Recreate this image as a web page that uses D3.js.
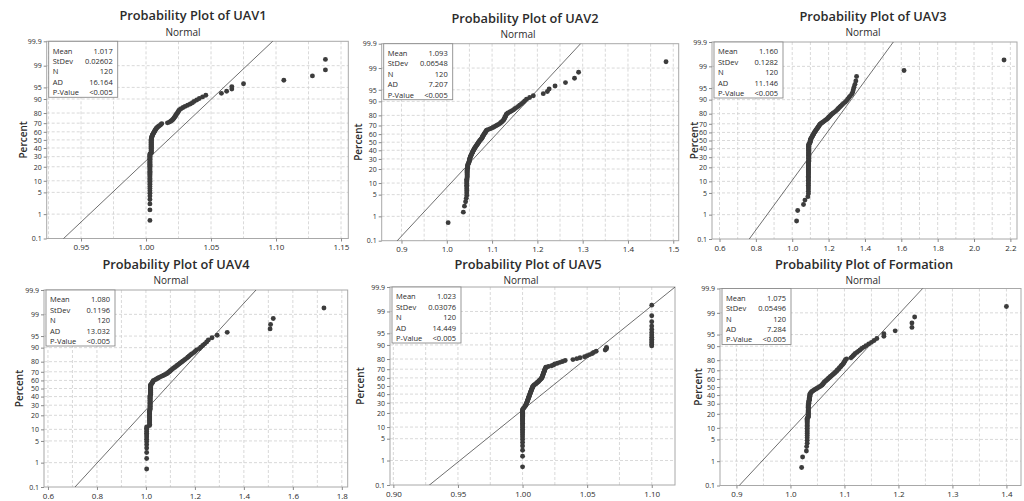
<!DOCTYPE html>
<html>
<head>
<meta charset="utf-8">
<script src="https://cdn.jsdelivr.net/npm/d3@7"></script>
<style>
  body { margin: 0; background: #fff; }
  svg text { font-family: "Open Sans", "Noto Sans", sans-serif; fill: #2b2b2b; }
</style>
</head>
<body>
<svg id="chart" width="1024" height="501"></svg>
<script>
// ---- sorted observations (n = 120 each) ----
const uav1 = [
  1.003,1.003,1.003,1.003,1.003,1.003,1.003,1.003,1.003,1.003,
  1.003,1.003,1.003,1.003,1.003,1.003,1.003,1.003,1.003,1.003,
  1.003,1.003,1.003,1.003,1.003,1.003,1.003,1.003,1.003,1.003,
  1.003,1.003,1.003,1.003,1.003,1.003,1.003,1.003,1.003,1.003,
  1.004,1.004,1.004,1.004,1.004,1.004,1.004,1.004,1.004,1.004,
  1.004,1.004,1.004,1.004,1.004,1.004,1.004,1.004,1.004,1.004,
  1.004,1.004,
  1.0042,1.0044,1.0045,1.0046,1.0048,1.005,1.0053,1.0056,1.0059,1.0062,
  1.0065,1.0068,1.0071,1.0074,1.0078,1.0082,1.0088,1.0095,1.0102,1.011,
  1.0116,1.0121,
  1.0165,1.018,1.019,1.0198,1.0205,1.021,1.0215,1.022,1.0225,1.0228,
  1.0232,1.0238,1.0243,1.0248,1.0252,1.0258,
  1.027,1.0285,1.030,1.032,1.034,1.0357,1.037,1.039,1.041,1.0435,1.046,
  1.058,1.062,1.066,1.066,1.075,1.106,1.128,1.138,1.138
];
const uav2 = [
  1.003,1.0365,1.039,1.0415,1.043,
  1.044,1.044,1.044,1.044,1.044,1.044,1.044,1.044,1.044,1.044,
  1.045,1.045,1.045,1.045,1.045,1.045,1.045,1.045,1.045,
  1.046,1.046,1.046,1.046,1.046,
  1.0475,1.048,1.049,1.0493,1.0497,1.050,1.0505,1.051,1.0515,1.052,
  1.0527,1.0535,1.0543,1.055,1.0557,1.0564,1.0571,1.0578,1.0585,1.0594,
  1.0603,1.0612,1.062,1.063,1.064,1.065,1.066,1.067,1.068,1.069,
  1.070,1.071,1.072,1.073,1.0743,1.0757,1.077,1.078,1.0785,1.079,
  1.080,1.081,1.082,1.083,1.084,1.085,1.086,1.087,1.088,
  1.091,1.095,1.099,1.102,1.105,1.108,1.111,1.114,1.117,1.119,
  1.121,1.123,1.125,1.126,1.127,1.128,1.129,1.130,1.131,1.132,
  1.135,1.139,1.143,1.147,1.150,1.154,1.158,1.161,1.165,1.169,
  1.172,1.176,1.183,1.191,
  1.213,1.222,1.226,1.239,1.262,1.282,1.291,1.484
];
const uav3 = [
  1.024,1.030,1.062,1.070,1.086,
  1.089,1.089,1.089,1.089,1.089,1.089,1.089,1.089,1.089,1.089,
  1.089,1.089,1.089,1.089,1.089,1.089,1.089,1.089,1.089,1.089,
  1.089,1.089,1.089,1.089,1.089,
  1.091,1.091,1.091,1.091,1.091,1.091,1.091,1.091,1.091,1.091,
  1.091,1.091,1.091,1.091,1.091,1.091,1.091,1.091,1.091,1.091,
  1.091,1.091,1.091,1.091,1.091,
  1.096,1.097,1.098,1.099,1.100,1.100,1.101,1.102,
  1.105,1.107,1.109,1.111,1.113,1.115,1.117,
  1.119,1.121,1.124,1.126,1.129,1.131,1.134,
  1.137,1.139,1.142,1.145,1.148,1.150,1.153,
  1.158,1.164,1.170,1.176,1.182,1.189,
  1.194,1.198,1.203,1.207,1.212,1.217,
  1.224,1.231,1.238,1.244,
  1.250,1.255,1.262,1.268,1.275,1.282,
  1.292,1.299,1.305,1.312,1.320,1.328,
  1.333,1.336,1.340,1.345,1.350,1.354,
  1.615,2.165
];
const uav4 = [
  1.003,1.003,1.003,1.003,1.003,1.003,1.003,1.003,1.003,1.003,
  1.003,1.003,1.003,1.003,
  1.015,1.015,1.015,1.015,1.015,1.015,1.015,1.015,1.015,1.015,
  1.015,1.015,1.015,1.015,1.015,1.015,
  1.017,1.017,1.017,1.017,1.017,1.017,1.017,1.017,1.017,1.017,
  1.017,1.017,1.017,1.017,1.017,1.017,1.017,1.017,1.017,1.017,
  1.019,1.019,1.019,1.019,1.019,1.019,1.019,1.019,1.019,1.019,
  1.019,1.019,1.019,1.019,1.019,1.019,
  1.022,1.024,1.026,1.027,1.029,1.030,
  1.035,1.040,1.045,1.050,
  1.055,1.061,1.067,1.073,1.079,1.085,
  1.089,1.093,1.097,1.100,1.104,1.108,1.112,
  1.117,1.121,1.126,1.130,1.135,1.139,
  1.145,1.150,1.155,1.160,1.166,
  1.171,1.176,1.182,1.187,
  1.195,1.201,1.207,1.218,
  1.224,1.232,1.240,1.248,1.255,1.270,1.291,1.332,
  1.507,1.509,1.520,1.727
];
const uav5 = [
  1.000,1.000,1.000,1.000,1.000,1.000,1.000,1.000,1.000,1.000,
  1.000,1.000,1.000,1.000,1.000,1.000,1.000,1.000,1.000,1.000,
  1.000,1.000,1.000,1.000,1.000,1.000,1.000,1.000,
  1.0005,1.001,1.0015,1.002,1.0023,1.0026,1.003,
  1.0032,1.0034,1.0036,1.0038,1.004,1.0042,1.0044,1.0046,1.0048,
  1.005,1.0052,1.0054,1.0056,1.0058,1.006,1.0062,1.0064,
  1.0066,1.0068,1.007,1.0072,1.0074,1.0076,1.0078,1.008,
  1.0085,1.009,1.0097,1.0104,1.011,1.0116,
  1.0122,1.0127,1.0132,1.0137,1.0142,1.0148,
  1.015,1.0152,1.0154,1.0156,1.0158,1.016,1.0162,1.0164,1.0166,1.0168,1.017,1.0172,
  1.0175,1.0178,1.018,1.020,1.0225,1.024,1.025,1.027,1.029,1.031,1.033,
  1.039,1.042,1.0445,1.048,1.050,1.052,1.054,1.055,1.057,
  1.064,1.065,1.065,
  1.100,1.100,1.100,1.100,1.100,1.100,1.100,1.100,1.100,1.100,
  1.100,1.100,1.100
];
const formation = [
  1.0207,1.0225,1.0295,1.030,1.031,
  1.031,1.031,1.031,1.031,1.031,1.031,1.031,1.031,1.031,1.031,
  1.031,1.031,1.031,1.031,1.031,
  1.033,1.033,1.033,1.033,1.033,1.033,1.033,1.033,1.033,1.033,
  1.033,1.033,1.033,1.033,1.033,
  1.034,1.034,1.034,1.034,1.034,1.035,1.035,1.035,1.035,1.035,
  1.036,1.036,1.036,1.036,1.036,
  1.037,1.038,1.039,1.040,
  1.042,1.044,1.046,1.048,1.050,1.052,1.054,1.056,
  1.058,1.059,1.060,1.061,1.062,1.063,1.064,1.066,1.067,1.069,
  1.070,1.071,1.073,1.074,1.076,1.077,1.079,1.080,1.082,1.083,
  1.085,1.086,1.087,1.089,1.090,1.091,1.093,1.094,1.095,1.097,
  1.098,1.099,1.100,1.101,1.102,1.104,
  1.112,1.114,1.116,1.118,1.120,1.123,1.126,1.129,1.132,1.136,
  1.140,1.145,1.150,1.155,1.160,1.173,1.173,1.194,
  1.225,1.225,1.230,1.400
];

// ---- summary statistics shown in each table ----
const variableNames = ["UAV1", "UAV2", "UAV3", "UAV4", "UAV5", "Formation"];
const means        = [1.017, 1.093, 1.160, 1.080, 1.023, 1.075];
const meanLabels   = ["1.017", "1.093", "1.160", "1.080", "1.023", "1.075"];
const stdevs       = [0.02602, 0.06548, 0.1282, 0.1196, 0.03076, 0.05496];
const stdevLabels  = ["0.02602", "0.06548", "0.1282", "0.1196", "0.03076", "0.05496"];
const nLabels      = ["120", "120", "120", "120", "120", "120"];
const adLabels     = ["16.164", "7.207", "11.146", "13.032", "14.449", "7.284"];
const pValueLabels = ["<0.005", "<0.005", "<0.005", "<0.005", "<0.005", "<0.005"];

// ---- axis ticks ----
const percentTicks = [0.1, 1, 5, 10, 20, 30, 40, 50, 60, 70, 80, 90, 95, 99, 99.9];
const xTicks1 = [0.95, 1.00, 1.05, 1.10, 1.15];
const xTicks2 = [0.9, 1.0, 1.1, 1.2, 1.3, 1.4, 1.5];
const xTicks3 = [0.6, 0.8, 1.0, 1.2, 1.4, 1.6, 1.8, 2.0, 2.2];
const xTicks4 = [0.6, 0.8, 1.0, 1.2, 1.4, 1.6, 1.8];
const xTicks5 = [0.90, 0.95, 1.00, 1.05, 1.10];
const xTicks6 = [0.9, 1.0, 1.1, 1.2, 1.3, 1.4];

// ---- panel layout ----
const panels = [
  { data: uav1, ticks: xTicks1, fmt: ".2f", grid: 0.025,
    left: 46.7, right: 348.3, top: 41.3, bottom: 238.5, domain: [0.9236, 1.1556],
    title: [193, 14.5], sub: [183, 31.5], ylab: 23 },
  { data: uav2, ticks: xTicks2, fmt: ".1f", grid: 0.05,
    left: 381.7, right: 678.7, top: 43.7, bottom: 240.7, domain: [0.8563, 1.512],
    title: [525, 18.3], sub: [518, 34.1], ylab: 358 },
  { data: uav3, ticks: xTicks3, fmt: ".1f", grid: 0.1,
    left: 712, right: 1017, top: 42, bottom: 239, domain: [0.5587, 2.2364],
    title: [873, 15.8], sub: [863, 31.6], ylab: 694 },
  { data: uav4, ticks: xTicks4, fmt: ".1f", grid: 0.1,
    left: 44, right: 347.7, top: 290, bottom: 487, domain: [0.5838, 1.824],
    title: [176, 264.2], sub: [171, 280], ylab: 19 },
  { data: uav5, ticks: xTicks5, fmt: ".2f", grid: 0.025,
    left: 390, right: 675, top: 287, bottom: 485, domain: [0.8974, 1.118],
    title: [528, 263.9], sub: [521, 279.7], ylab: 360 },
  { data: formation, ticks: xTicks6, fmt: ".1f", grid: 0.05,
    left: 720, right: 1021, top: 288.5, bottom: 485.5, domain: [0.8695, 1.427],
    title: [864, 263.9], sub: [863, 279.7], ylab: 698 }
];

// inverse standard normal CDF (Acklam)
function probit(p) {
  const a = [-3.969683028665376e+01, 2.209460984245205e+02, -2.759285104469687e+02,
             1.383577518672690e+02, -3.066479806614716e+01, 2.506628277459239e+00];
  const b = [-5.447609879822406e+01, 1.615858368580409e+02, -1.556989798598866e+02,
             6.680131188771972e+01, -1.328068155288572e+01];
  const c = [-7.784894002430293e-03, -3.223964580411365e-01, -2.400758277161838e+00,
             -2.549671010366078e+00, 4.374664141464968e+00, 2.938163982698783e+00];
  const d = [7.784695709041462e-03, 3.224671290700398e-01, 2.445134137142996e+00,
             3.754408661907416e+00];
  const pl = 0.02425, ph = 1 - pl;
  let q, r;
  if (p < pl) {
    q = Math.sqrt(-2 * Math.log(p));
    return (((((c[0]*q+c[1])*q+c[2])*q+c[3])*q+c[4])*q+c[5]) /
           ((((d[0]*q+d[1])*q+d[2])*q+d[3])*q+1);
  }
  if (p <= ph) {
    q = p - 0.5; r = q * q;
    return (((((a[0]*r+a[1])*r+a[2])*r+a[3])*r+a[4])*r+a[5])*q /
           (((((b[0]*r+b[1])*r+b[2])*r+b[3])*r+b[4])*r+1);
  }
  q = Math.sqrt(-2 * Math.log(1 - p));
  return -(((((c[0]*q+c[1])*q+c[2])*q+c[3])*q+c[4])*q+c[5]) /
          ((((d[0]*q+d[1])*q+d[2])*q+d[3])*q+1);
}

const svg = d3.select("#chart");
const zMin = probit(0.001), zMax = probit(0.999);
const tickFont = '"Liberation Sans", Arial, sans-serif';

panels.forEach((pn, k) => {
  const g = svg.append("g");
  const x = d3.scaleLinear().domain(pn.domain).range([pn.left, pn.right]);
  const y = d3.scaleLinear().domain([zMin, zMax]).range([pn.bottom, pn.top]);
  const w = pn.right - pn.left, h = pn.bottom - pn.top;

  // titles
  g.append("text").attr("x", pn.title[0]).attr("y", pn.title[1])
    .attr("text-anchor", "middle").attr("dominant-baseline", "central")
    .attr("font-size", 12.8).attr("font-weight", 600)
    .text("Probability Plot of " + variableNames[k]);
  g.append("text").attr("x", pn.sub[0]).attr("y", pn.sub[1])
    .attr("text-anchor", "middle").attr("dominant-baseline", "central")
    .attr("font-size", 10).text("Normal");

  // y axis label
  g.append("text")
    .attr("transform", `translate(${pn.ylab},${(pn.top + pn.bottom) / 2}) rotate(-90)`)
    .attr("text-anchor", "middle").attr("dominant-baseline", "central")
    .attr("font-size", 10).attr("font-weight", 600).text("Percent");

  // gridlines
  const gridVals = d3.range(Math.ceil(pn.domain[0] / pn.grid - 1e-9),
                            Math.floor(pn.domain[1] / pn.grid + 1e-9) + 1)
                     .map(i => i * pn.grid);
  g.append("g").selectAll("line").data(gridVals).join("line")
    .attr("x1", d => x(d)).attr("x2", d => x(d))
    .attr("y1", pn.top).attr("y2", pn.bottom)
    .attr("stroke", "#cfcfcf").attr("stroke-width", 0.8).attr("stroke-dasharray", "3,2");
  g.append("g").selectAll("line").data(percentTicks.slice(1, -1)).join("line")
    .attr("x1", pn.left).attr("x2", pn.right)
    .attr("y1", d => y(probit(d / 100))).attr("y2", d => y(probit(d / 100)))
    .attr("stroke", "#cfcfcf").attr("stroke-width", 0.8).attr("stroke-dasharray", "3,2");

  // frame
  g.append("rect").attr("x", pn.left).attr("y", pn.top).attr("width", w).attr("height", h)
    .attr("fill", "none").attr("stroke", "#a8a8a8").attr("stroke-width", 1);

  // axes
  const yAxis = d3.axisLeft(y).tickValues(percentTicks.map(p => probit(p / 100)))
    .tickFormat((d, i) => String(percentTicks[i])).tickSize(3).tickPadding(2);
  const ya = g.append("g").attr("transform", `translate(${pn.left},0)`).call(yAxis);
  const xAxis = d3.axisBottom(x).tickValues(pn.ticks).tickFormat(d3.format(pn.fmt))
    .tickSize(3).tickPadding(3);
  const xa = g.append("g").attr("transform", `translate(0,${pn.bottom})`).call(xAxis);
  [ya, xa].forEach(a => {
    a.select(".domain").remove();
    a.selectAll("line").attr("stroke", "#8a8a8a");
    a.selectAll("text").attr("fill", "#333").attr("font-family", tickFont);
  });
  ya.selectAll("text").attr("font-size", 7);
  xa.selectAll("text").attr("font-size", 8);

  // clip for the fitted line
  const clipId = "clip" + k;
  svg.append("clipPath").attr("id", clipId).append("rect")
    .attr("x", pn.left).attr("y", pn.top).attr("width", w).attr("height", h);

  // fitted normal line from the stated mean and standard deviation
  const fit = [zMin - 1, zMax + 1].map(z => [means[k] + stdevs[k] * z, z]);
  g.append("path").attr("clip-path", `url(#${clipId})`)
    .attr("d", d3.line().x(d => x(d[0])).y(d => y(d[1]))(fit))
    .attr("fill", "none").attr("stroke", "#4a4a4a").attr("stroke-width", 0.8);

  // plotted points at median-rank percentiles
  const n = pn.data.length;
  g.append("g").selectAll("circle").data(pn.data).join("circle")
    .attr("cx", d => x(d))
    .attr("cy", (d, i) => y(probit((i + 1 - 0.3) / (n + 0.4))))
    .attr("r", 2.45).attr("fill", "#3c3c3c");

  // statistics table
  const bx = pn.left + 2, by = pn.top, bw = 69, bh = 56;
  g.append("rect").attr("x", bx).attr("y", by).attr("width", bw).attr("height", bh)
    .attr("fill", "#fff").attr("stroke", "#8c8c8c").attr("stroke-width", 0.9);
  const rows = [["Mean", meanLabels[k]], ["StDev", stdevLabels[k]], ["N", nLabels[k]],
                ["AD", adLabels[k]], ["P-Value", pValueLabels[k]]];
  rows.forEach((r, i) => {
    const ty = by + 9.3 + i * 10.4;
    g.append("text").attr("x", bx + 4).attr("y", ty).attr("dominant-baseline", "central")
      .attr("font-size", 7.5).text(r[0]);
    g.append("text").attr("x", bx + bw - 5).attr("y", ty).attr("dominant-baseline", "central")
      .attr("text-anchor", "end").attr("font-size", 7.5).text(r[1]);
  });
});
</script>
</body>
</html>
